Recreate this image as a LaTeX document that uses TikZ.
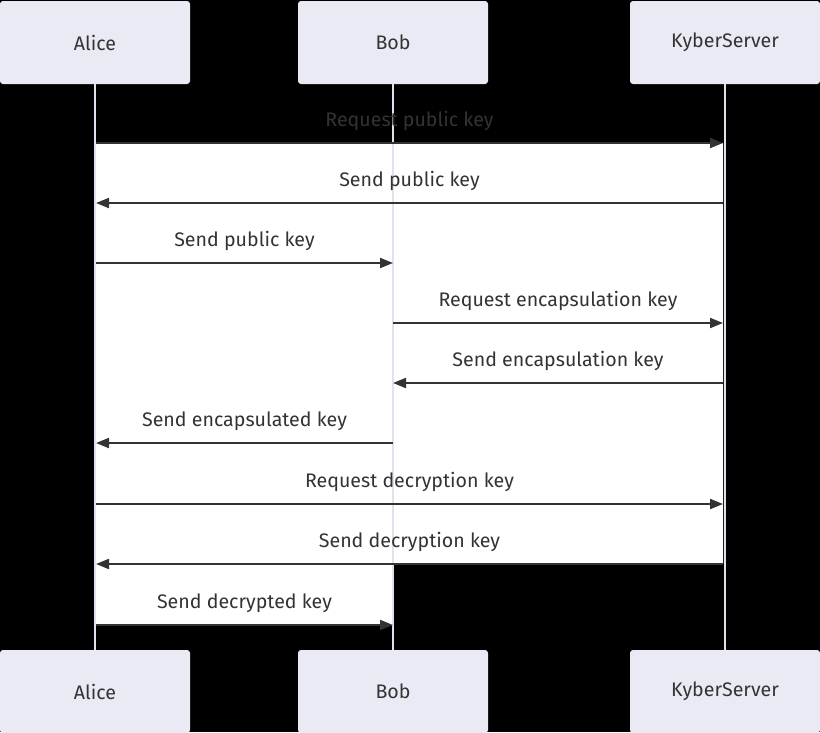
\documentclass[tikz,border=0pt]{standalone}
\usepackage{fontspec}
\setmainfont{Fira Sans}
\usetikzlibrary{arrows.meta}
\definecolor{actorfill}{HTML}{EAEAF4}
\definecolor{lifeln}{HTML}{E2E2EE}
\definecolor{ink}{HTML}{333333}
\tikzset{
  actor/.style={fill=actorfill, rounded corners=3pt, minimum width=190pt, minimum height=83pt, inner sep=0pt, text=ink, font=\fontsize{19.6}{22}\selectfont},
  msg/.style={draw=ink, line width=2pt, -{Triangle[length=13pt,width=10pt]}, shorten >=0pt},
  lbl/.style={text=ink, font=\fontsize{19.6}{22}\selectfont, inner sep=0pt},
  life/.style={draw=lifeln, line width=1.6pt}
}
\begin{document}
\begin{tikzpicture}[x=1pt,y=-1pt]
\useasboundingbox (0,0) rectangle (820,732);
\fill[black] (0,0) rectangle (820,732);
\fill[white] (96,143) -- (723,143) -- (723,564) -- (393,564) -- (393,625) -- (96,625) -- cycle;
% actors
\node[actor] (a1) at (95,42.5) {Alice};
\node[actor] (b1) at (393,42.5) {Bob};
\node[actor] (k1) at (725,42.5) {KyberServer};
\node[actor] (a2) at (95,691.5) {Alice};
\node[actor] (b2) at (393,691.5) {Bob};
\node[actor] (k2) at (725,691.5) {KyberServer};
% lifelines
\draw[life] (a1.south) -- (a2.north);
\draw[life] (b1.south) -- (b2.north);
\draw[life] (k1.south) -- (k2.north);
% message points
\foreach \i/\y in {1/143,2/203,3/263,4/323,5/383,6/443,7/504,8/564,9/625}{
  \coordinate (A\i) at (96,\y);
  \coordinate (B\i) at (393,\y);
  \coordinate (K\i) at (723,\y);
}
\draw[msg] (A1) -- (K1) node[lbl, midway, above=11pt] (m1) {Request public key};
\draw[msg] (K2) -- (A2) node[lbl, midway, above=11pt] (m2) {Send public key};
\draw[msg] (A3) -- (B3) node[lbl, midway, above=11pt] (m3) {Send public key};
\draw[msg] (B4) -- (K4) node[lbl, midway, above=11pt] (m4) {Request encapsulation key};
\draw[msg] (K5) -- (B5) node[lbl, midway, above=11pt] (m5) {Send encapsulation key};
\draw[msg] (B6) -- (A6) node[lbl, midway, above=11pt] (m6) {Send encapsulated key};
\draw[msg] (A7) -- (K7) node[lbl, midway, above=11pt] (m7) {Request decryption key};
\draw[msg] (K8) -- (A8) node[lbl, midway, above=11pt] (m8) {Send decryption key};
\draw[msg] (A9) -- (B9) node[lbl, midway, above=11pt] (m9) {Send decrypted key};
\end{tikzpicture}
\end{document}
